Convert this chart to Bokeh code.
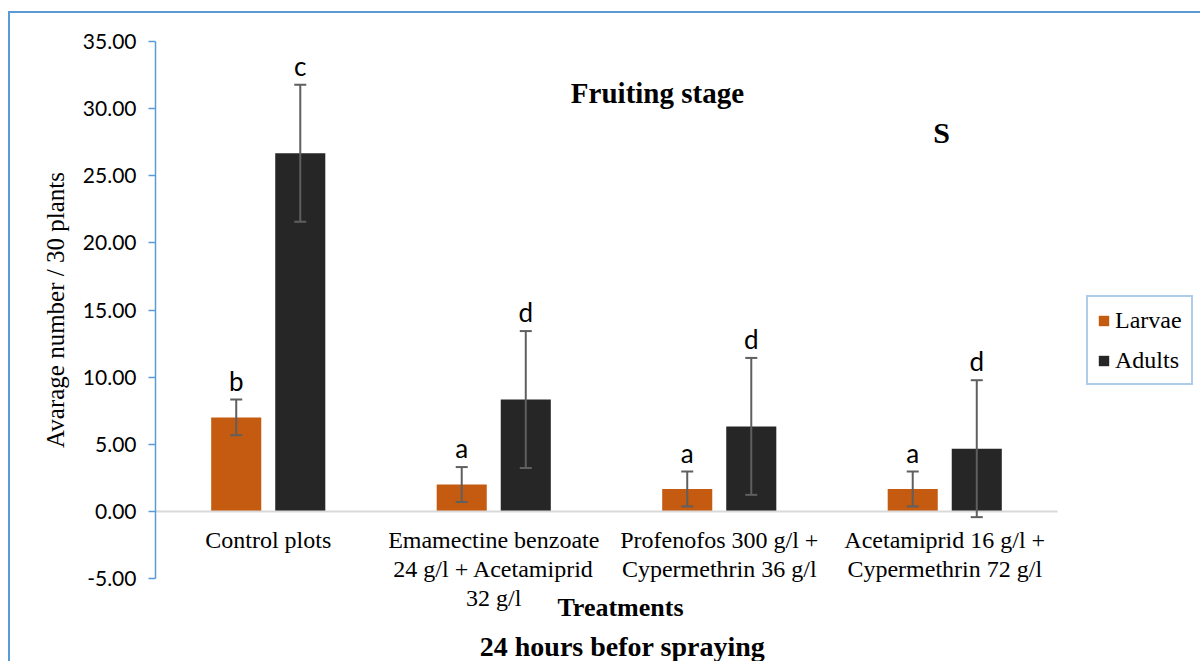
from bokeh.plotting import figure
from bokeh.models import (ColumnDataSource, FactorRange, Range1d, Whisker, TeeHead,
                          Legend, LegendItem, Label, NumeralTickFormatter, FixedTicker)
from bokeh.transform import dodge
from bokeh.core.properties import value
from bokeh.embed import file_html
from bokeh.resources import INLINE

# ---- data ----
treatments = [
    "Control plots",
    "Emamectine benzoate\n24 g/l + Acetamiprid\n32 g/l",
    "Profenofos 300 g/l +\nCypermethrin 36 g/l",
    "Acetamiprid 16 g/l +\nCypermethrin 72 g/l",
]
larvae = [7.00, 2.00, 1.67, 1.67]
adults = [26.67, 8.33, 6.33, 4.67]
larvae_err = [1.33, 1.30, 1.30, 1.30]
adults_err = [5.10, 5.10, 5.10, 5.10]
larvae_letters = ["b", "a", "a", "a"]
adults_letters = ["c", "d", "d", "d"]
y_ticks = [-5, 0, 5, 10, 15, 20, 25, 30, 35]
y_min, y_max = -5, 35

LARVAE_COLOR = "#C55A11"
ADULTS_COLOR = "#262626"
ERR_COLOR = "#5F5F5F"
BLUE = "#5B9BD5"
SERIF = "Liberation Serif"
SANS = "Lato"

# ---- layout (pixels) ----
W_PX, H_PX = 1192, 650
AXIS_W = 902          # px width of the 4 categories
SIDE = (W_PX - AXIS_W) / 2
TOP_GAP, AXIS_H = 28, 537   # px above y_max, px from y_max to y_min
px_per_unit = AXIS_H / (y_max - y_min)
y_top = y_max + TOP_GAP / px_per_unit
y_low = y_top - H_PX / px_per_unit
x_pad = SIDE / (AXIS_W / len(treatments))

src = ColumnDataSource(dict(
    cat=treatments,
    larvae=larvae,
    adults=adults,
    l_up=[v + e for v, e in zip(larvae, larvae_err)],
    l_lo=[v - e for v, e in zip(larvae, larvae_err)],
    a_up=[v + e for v, e in zip(adults, adults_err)],
    a_lo=[v - e for v, e in zip(adults, adults_err)],
    l_let=larvae_letters,
    a_let=adults_letters,
))

p = figure(
    x_range=FactorRange(*treatments, range_padding=x_pad, range_padding_units="absolute"),
    y_range=Range1d(y_low, y_top),
    width=W_PX, height=H_PX,
    output_backend="svg", toolbar_location=None,
    min_border_left=0, min_border_right=0,
    min_border_top=0, min_border_bottom=0,
)
p.styles = {"border-top": f"2px solid {BLUE}", "border-left": f"2px solid {BLUE}",
            "margin-top": "11px", "margin-left": "8px"}
p.grid.visible = False
p.outline_line_color = None
p.background_fill_color = "white"
p.border_fill_color = "white"

OFF = 0.142
W = 0.222
r1 = p.vbar(x=dodge("cat", -OFF, range=p.x_range), top="larvae", bottom=0, width=W,
            source=src, fill_color=LARVAE_COLOR, line_color=None)
r2 = p.vbar(x=dodge("cat", OFF, range=p.x_range), top="adults", bottom=0, width=W,
            source=src, fill_color=ADULTS_COLOR, line_color=None)

for off, up, lo in [(-OFF, "l_up", "l_lo"), (OFF, "a_up", "a_lo")]:
    w = Whisker(base=dodge("cat", off, range=p.x_range), upper=up, lower=lo, source=src,
                line_color=ERR_COLOR, line_width=2,
                upper_head=TeeHead(size=12, line_color=ERR_COLOR, line_width=2),
                lower_head=TeeHead(size=12, line_color=ERR_COLOR, line_width=2))
    w.level = "overlay"
    p.add_layout(w)

for off, up, let in [(-OFF, "l_up", "l_let"), (OFF, "a_up", "a_let")]:
    p.text(x=dodge("cat", off, range=p.x_range), y=up, text=let, source=src,
           text_align="center", text_baseline="bottom", y_offset=-3,
           text_font=value(SANS), text_font_size="26px", text_color="black")

# y axis at the left edge of the categories
yax = p.yaxis[0]
yax.fixed_location = 0
yax.bounds = (y_min, y_max)
yax.ticker = FixedTicker(ticks=y_ticks)
yax.formatter = NumeralTickFormatter(format="0.00")
yax.axis_line_color = BLUE
yax.axis_line_width = 1.5
yax.major_tick_line_color = BLUE
yax.major_tick_line_width = 1.5
yax.major_tick_out = 7
yax.major_tick_in = 0
yax.minor_tick_line_color = None
yax.major_label_text_font = SANS
yax.major_label_text_font_size = "21px"
yax.major_label_text_color = "black"
yax.major_label_standoff = 12
yax.axis_label = "Avarage number / 30 plants"
yax.axis_label_text_font = SERIF
yax.axis_label_text_font_size = "25px"
yax.axis_label_text_font_style = "normal"
yax.axis_label_text_color = "black"
yax.axis_label_standoff = 11

# x axis at y = 0
xax = p.xaxis[0]
xax.fixed_location = 0
xax.bounds = (0, len(treatments))
xax.axis_line_color = "#D9D9D9"
xax.axis_line_width = 2
xax.major_tick_line_color = None
xax.minor_tick_line_color = None
xax.major_label_text_font = SERIF
xax.major_label_text_font_size = "24px"
xax.major_label_text_line_height = 1.1
xax.major_label_text_color = "black"
xax.major_label_standoff = 10
xax.major_label_orientation = "horizontal"

# titles / annotations
def lab(x, y, t, size, bold=True):
    p.add_layout(Label(x=x, y=y, text=t, text_align="center", text_baseline="middle",
                       text_font=SERIF, text_font_size=size,
                       text_font_style="bold" if bold else "normal", text_color="black"))

lab(2.226, 31.2, "Fruiting stage", "29px")
lab(3.486, 28.2, "S", "30px")
lab(2.062, -7.15, "Treatments", "26px")
lab(2.071, -10.05, "24 hours befor spraying", "28px")

legend = Legend(items=[LegendItem(label="Larvae", renderers=[r1]),
                       LegendItem(label="Adults", renderers=[r2])],
                location=(1076, 278), orientation="vertical")
legend.border_line_color = BLUE
legend.border_line_width = 2.5
legend.background_fill_color = "white"
legend.background_fill_alpha = 1
legend.padding = 9
legend.margin = 0
legend.spacing = 12
legend.glyph_width = 13
legend.glyph_height = 13
legend.label_height = 28
legend.label_standoff = 5
legend.label_text_font = SERIF
legend.label_text_font_size = "24px"
legend.label_text_color = "black"
p.add_layout(legend, "center")

html = file_html(p, INLINE)
open("out.html", "w").write(html)
